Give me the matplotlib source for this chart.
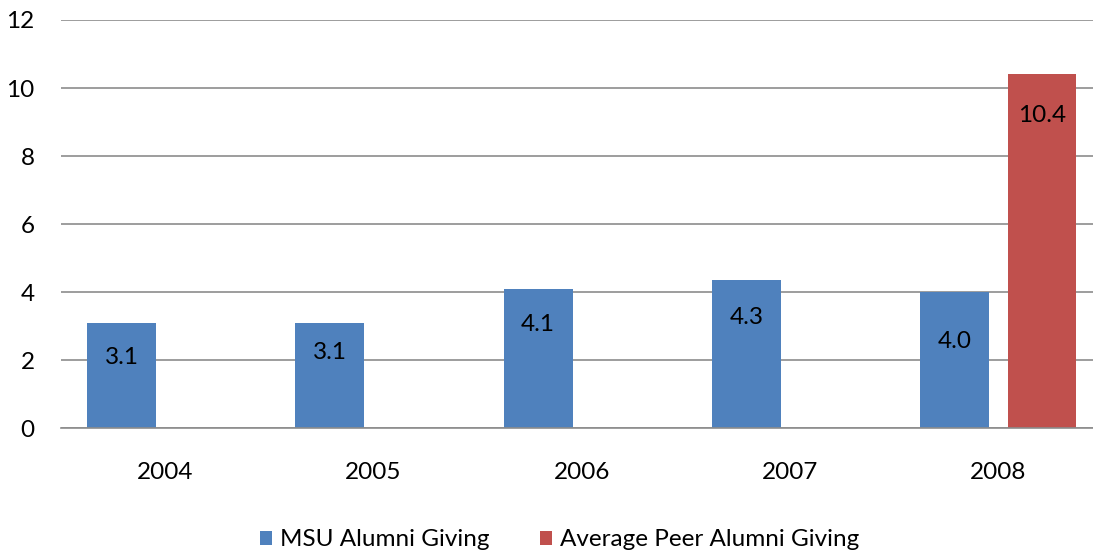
import matplotlib
matplotlib.use("Agg")
import matplotlib.pyplot as plt
from matplotlib.patches import Patch
import numpy as np

years = ["2004", "2005", "2006", "2007", "2008"]
msu_values = [3.1, 3.1, 4.1, 4.35, 4.0]
peer_values = [None, None, None, None, 10.4]
series_names = ["MSU Alumni Giving", "Average Peer Alumni Giving"]
y_ticks = [0, 2, 4, 6, 8, 10, 12]

# label offsets below bar top (pixels) - style only
msu_label_dy = [35, 30, 36, 37, 49]
peer_label_dy = [41]

BLUE = "#4F81BD"
RED = "#C0504D"
GRID = "#8C8C8C"

plt.rcParams['font.family'] = ['Lato', 'DejaVu Sans']
FS = 17.5

fig = plt.figure(figsize=(10.93, 5.54), dpi=100)
ax = fig.add_axes([61 / 1093, 1 - 428.3 / 554, 1 - 61 / 1093, (428.3 - 20) / 554])

x = np.arange(len(years))
w = 0.331
off = 0.2095

msu_bars = ax.bar(x - off, msu_values, width=w, color=BLUE, zorder=3)
peer_x = [xi + off for xi, v in zip(x, peer_values) if v is not None]
peer_v = [v for v in peer_values if v is not None]
peer_bars = ax.bar(peer_x, peer_v, width=w, color=RED, zorder=3)

for b, v, dy in zip(msu_bars, msu_values, msu_label_dy):
    ax.annotate(f"{v:.1f}", (b.get_x() + b.get_width() / 2, v), xytext=(0, -dy * 0.72),
                textcoords="offset points", ha="center", va="center", fontsize=FS, color="black", zorder=4)
for b, v, dy in zip(peer_bars, peer_v, peer_label_dy):
    ax.annotate(f"{v:.1f}", (b.get_x() + b.get_width() / 2, v), xytext=(0, -dy * 0.72),
                textcoords="offset points", ha="center", va="center", fontsize=FS, color="black", zorder=4)

ax.set_xlim(-0.5, 4.5 - 9.5 / 208.3)
ax.set_ylim(0, 12)
ax.set_yticks(y_ticks)
ax.set_yticklabels([str(t) for t in y_ticks], fontsize=FS)
ax.set_xticks(x)
ax.set_xticklabels(years, fontsize=FS)
ax.tick_params(axis="y", length=0, pad=19)
ax.tick_params(axis="x", length=0, pad=24)

ax.yaxis.grid(True, color=GRID, linewidth=1.2, zorder=0)
ax.set_axisbelow(True)
for s in ["top", "right", "left"]:
    ax.spines[s].set_visible(False)
ax.spines["bottom"].set_color(GRID)
ax.spines["bottom"].set_linewidth(1.2)
ax.spines["bottom"].set_zorder(5)

handles = [Patch(facecolor=BLUE, edgecolor="none"), Patch(facecolor=RED, edgecolor="none")]
fig.legend(handles, series_names, loc="center", bbox_to_anchor=(0.512, 1 - 540 / 554),
           ncol=2, frameon=False, fontsize=FS, handlelength=0.5, handleheight=0.5,
           handletextpad=0.33, columnspacing=2.1, borderpad=0)

fig.savefig("out.png", dpi=100)
